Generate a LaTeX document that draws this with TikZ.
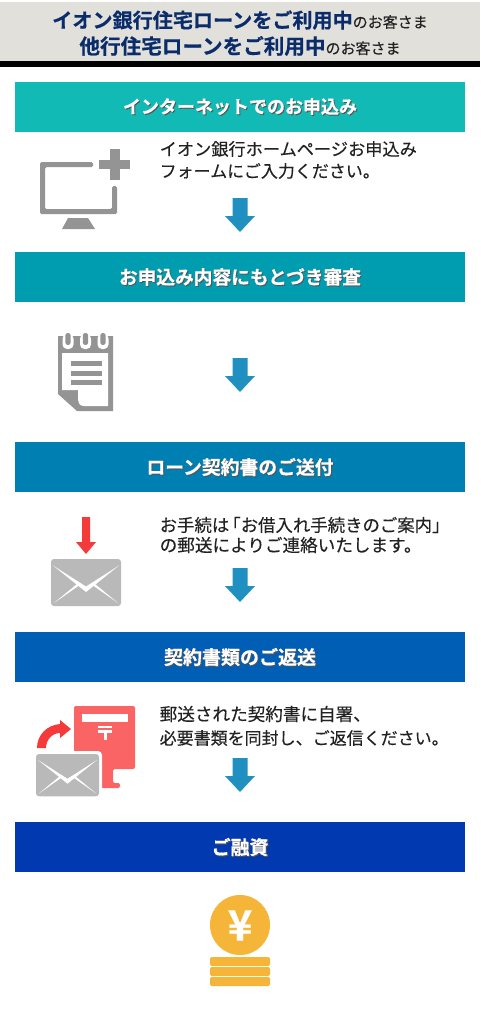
\documentclass[tikz,border=0pt]{standalone}
\usepackage{fontspec}
\setmainfont{Noto Sans CJK JP}
\newfontfamily\heavyf[FakeBold=0.5]{Noto Sans CJK JP Bold}
\newfontfamily\bodyf[FakeBold=0.2]{Noto Sans CJK JP}
\definecolor{hdrbg}{HTML}{E1E0DB}
\definecolor{navy}{HTML}{0B2C6B}
\definecolor{ink}{HTML}{222222}
\definecolor{iconA}{HTML}{949494}
\definecolor{envA}{HTML}{B9B9B9}
\definecolor{arrowA}{HTML}{2090C0}
\definecolor{redA}{HTML}{F53A3A}
\definecolor{boxA}{HTML}{FA6464}
\definecolor{coinA}{HTML}{F5B538}
\definecolor{barA}{HTML}{11BAB5}
\definecolor{barB}{HTML}{009DB0}
\definecolor{barC}{HTML}{007FB2}
\definecolor{barD}{HTML}{005EB5}
\definecolor{barE}{HTML}{0039B0}
\definecolor{shadowgray}{HTML}{555555}
\newcommand{\shtext}[1]{\leavevmode\rlap{\kern1pt\raisebox{-1pt}{\color{shadowgray}#1}}#1}
\newcommand{\flowarrow}[1]{\fill[arrowA] (232.5,#1) -- (247.5,#1) -- (247.5,#1+18) -- (255,#1+18) -- (240,#1+34) -- (225,#1+18) -- (232.5,#1+18) -- cycle;}
\newcommand{\envelope}[3]{%
\begin{scope}[shift={(#1,#2)},scale=#3]
\fill[envA,rounded corners=3] (0,0) rectangle (70,47);
\fill[white] (2,6.5) -- (35,27.5) -- (68,6.5) -- (35,33) -- cycle;
\fill[white] (3,44) -- (26,25) -- (28,26.5) -- cycle;
\fill[white] (67,44) -- (44,25) -- (42,26.5) -- cycle;
\end{scope}}
\tikzset{
  bartext/.style={text=white,inner sep=0pt,anchor=center},
  bodytext/.style={text=ink,inner sep=0pt,anchor=west},
  titletext/.style={inner sep=0pt,anchor=center}
}
\newcommand{\barf}[1]{\heavyf\fontsize{#1}{#1}\selectfont}
\newcommand{\bodysz}[1]{\bodyf\fontsize{#1}{#1}\selectfont}
\newcommand{\bigt}[2]{{\color{navy}\heavyf\fontsize{#1}{#1}\selectfont #2}}
\newcommand{\smallt}[1]{{\color{ink}\bodyf\fontsize{15}{15}\selectfont #1}}
\begin{document}
\begin{tikzpicture}[x=1pt,y=-1pt]
\useasboundingbox (0,0) rectangle (480,1012);
\fill[white] (0,0) rectangle (480,1012);
% header
\fill[hdrbg] (0,2) rectangle (480,61);
\fill[black] (0,61) rectangle (480,67);
\node[titletext] (t1) at (240,20) {\bigt{20.1}{イオン銀行住宅ローンをご利用中}\smallt{のお客さま}};
\node[titletext] (t2) at (240,46) {\bigt{20.6}{他行住宅ローンをご利用中}\smallt{のお客さま}};
% bars
\fill[barA] (15,82) rectangle (465,132);
\fill[barB] (15,252) rectangle (465,302);
\fill[barC] (15,442) rectangle (465,492);
\fill[barD] (15,632) rectangle (465,682);
\fill[barE] (15,822) rectangle (465,872);
\node[bartext,font=\barf{18}] (b1) at (240,107) {\shtext{インターネットでのお申込み}};
\node[bartext,font=\barf{18.7}] (b2) at (240,277.5) {\shtext{お申込み内容にもとづき審査}};
\node[bartext,font=\barf{18.8}] (b3) at (240,467.5) {\shtext{ローン契約書のご送付}};
\node[bartext,font=\barf{19}] (b4) at (240,657.5) {\shtext{契約書類のご返送}};
\node[bartext,font=\barf{19}] (b5) at (240,847.5) {\shtext{ご融資}};
% body text
\node[bodytext,font=\bodysz{17.2}] (l1) at (159.5,149) {イオン銀行ホームページお申込み};
\node[bodytext,font=\bodysz{17}] (l2) at (159.5,171) {フォームにご入力ください。};
\node[bodytext,font=\bodysz{17.4}] (l3) at (159.5,525) {お手続は\kern-6pt「お借入れ手続きのご案内」};
\node[bodytext,font=\bodysz{17.6}] (l4) at (159.5,545) {の郵送によりご連絡いたします。};
\node[bodytext,font=\bodysz{17.6}] (l5) at (159.5,714) {郵送された契約書に自署、};
\node[bodytext,font=\bodysz{17}] (l6) at (159.5,738) {必要書類を同封し、ご返信ください。};
% flow arrows
\flowarrow{198}
\flowarrow{358}
\flowarrow{568}
\flowarrow{758}
% monitor
\fill[iconA,rounded corners=1.5] (40,162) -- (93,162) -- (93,167) -- (45,167) -- (45,209) -- (112,209) -- (112,186) -- (117,186) -- (117,214) -- (40,214) -- cycle;
\fill[iconA] (68,218) -- (88,218) -- (95,229) -- (62,229) -- cycle;
\fill[iconA] (99,160) rectangle (130,169);
\fill[iconA] (110,149) rectangle (120,180);
% notepad
\fill[iconA] (58,336) -- (113,336) -- (113,411) -- (77,411) -- (58,394) -- cycle;
\fill[white] (62,353) -- (108,353) -- (108,406) -- (84,406) .. controls (80,406) and (78,403) .. (78,400) -- (78,390) -- (62,390) -- cycle;
\foreach \cx in {68,85.5,103}{
  \fill[white,rounded corners=4.5] (\cx-5.5,334) rectangle (\cx+5.5,349);
  \fill[iconA,rounded corners=2.5] (\cx-2.7,333) rectangle (\cx+2.7,345);
}
\fill[iconA] (70.5,361) rectangle (101.5,366);
\fill[iconA] (70.5,370.5) rectangle (101.5,375.5);
\fill[iconA] (70.5,379.5) rectangle (101.5,384.5);
% red arrow + envelope
\fill[redA] (82,517) -- (90,517) -- (90,542) -- (96,542) -- (86,554) -- (76,542) -- (82,542) -- cycle;
\envelope{51}{559}{1}
% mailbox
\fill[boxA,rounded corners=2] (74,706) -- (135,706) -- (135,769) -- (113,769) -- (113,783) -- (120,783) -- (120,788) -- (95,788) -- (95,770) -- (74,770) -- cycle;
\fill[white] (82,714) rectangle (128,722);
\fill[white] (98,726) rectangle (112,728);
\fill[white] (98,730) rectangle (112,733);
\fill[white] (103.5,730) rectangle (106.5,740);
\fill[white,rounded corners=4] (33,751) rectangle (102,799);
\envelope{36}{754}{0.9}
\fill[redA] (37,748) .. controls (37,735) and (47,725) .. (60,724) -- (60,720) -- (71,729) -- (60,738) -- (60,733) .. controls (52,733) and (46,740) .. (46,748) -- cycle;
% coin
\fill[coinA] (240,925) circle (30);
\node[inner sep=0pt,text=white,font=\barf{42}] (yen) at (240,925.5) {¥};
\fill[coinA,rounded corners=2] (210,957) rectangle (270,966);
\fill[coinA,rounded corners=2] (210,967) rectangle (270,976);
\fill[coinA,rounded corners=2] (210,977) rectangle (270,986);
\end{tikzpicture}
\end{document}
